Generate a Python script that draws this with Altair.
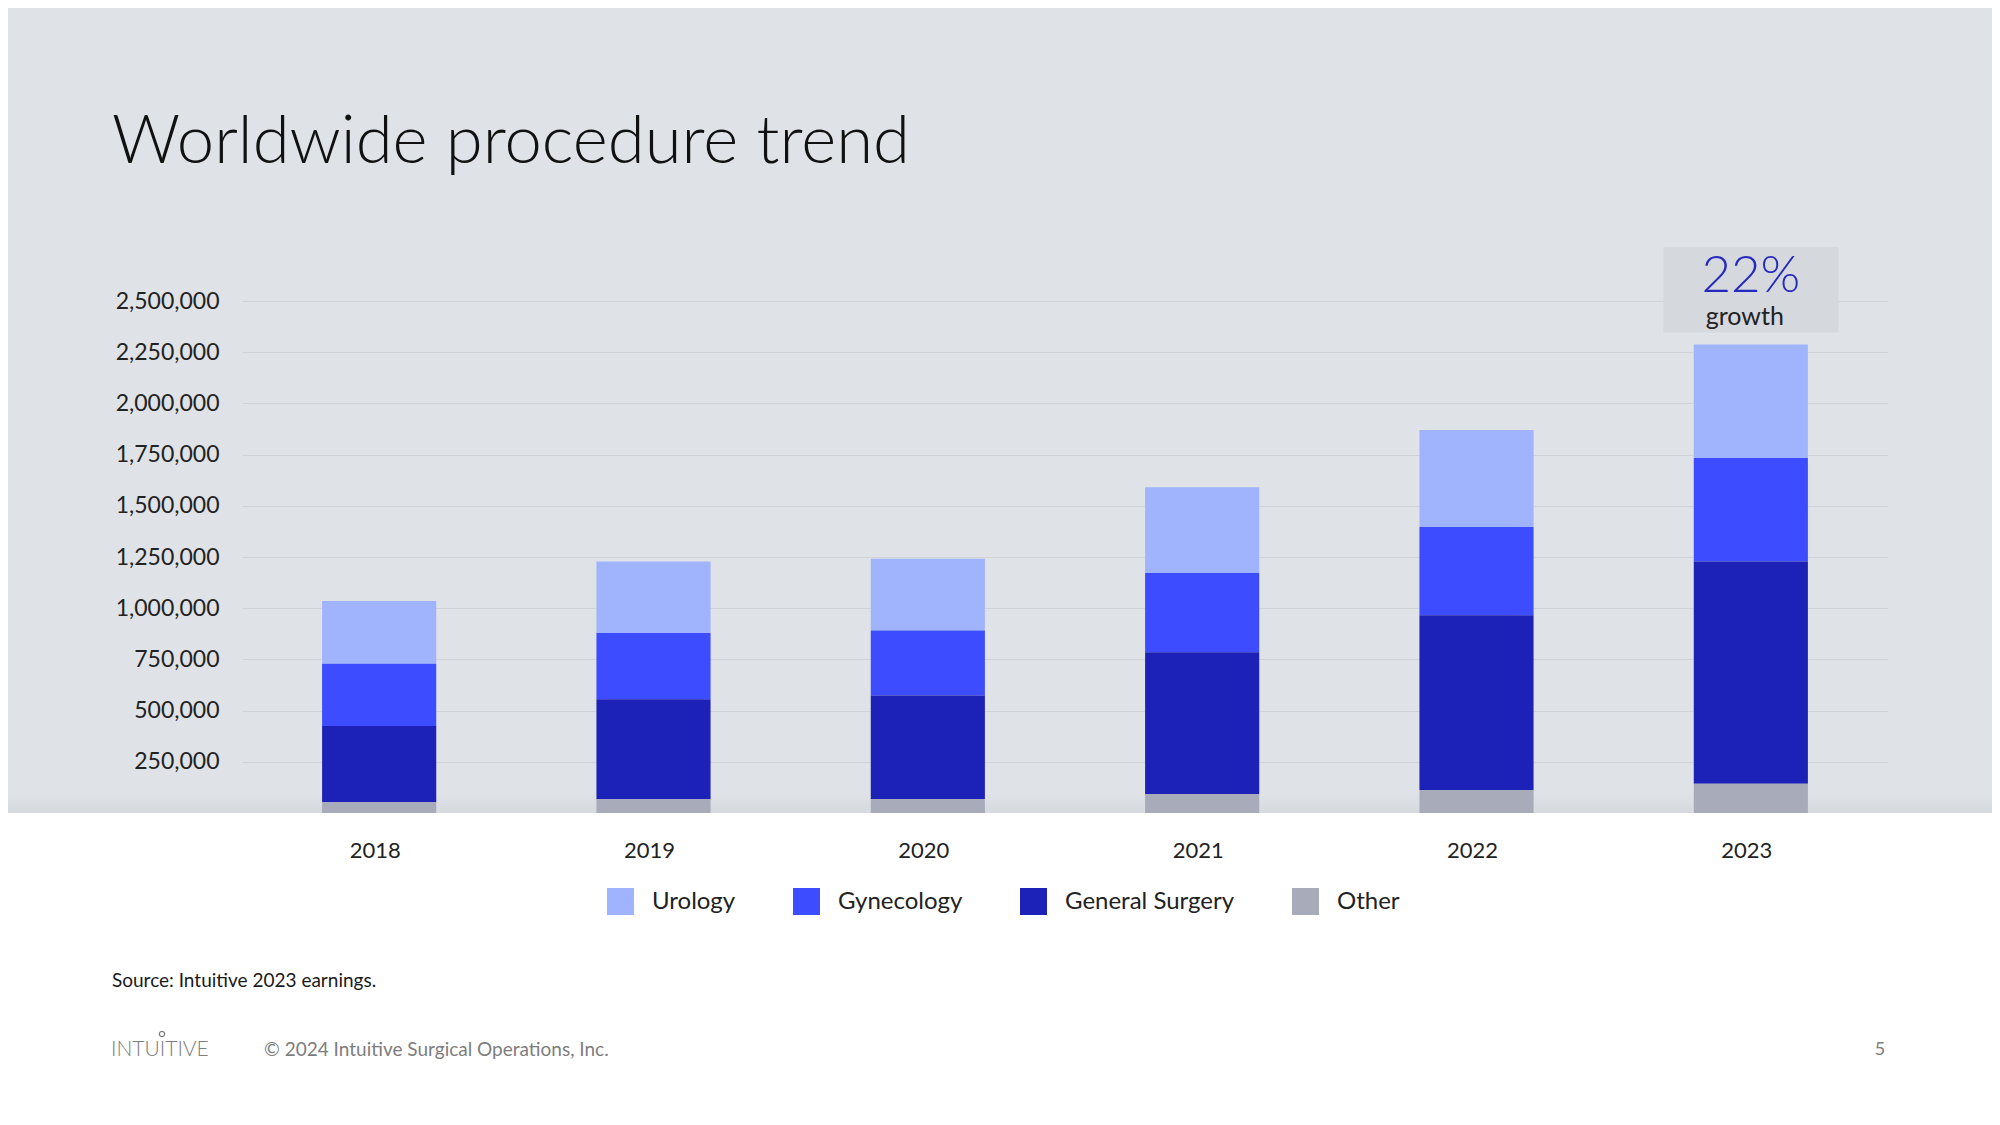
import altair as alt
import pandas as pd

# ---------------- data ----------------
years = ["2018", "2019", "2020", "2021", "2022", "2023"]
other = [52000, 67000, 68000, 93000, 112000, 143000]
general_surgery = [373000, 488000, 506000, 692000, 854000, 1085000]
gynecology = [304000, 324000, 317000, 387000, 430000, 505000]
urology = [306000, 349000, 350000, 418000, 474000, 555000]

categories = ["Urology", "Gynecology", "General Surgery", "Other"]
colors = ["#a0b4fd", "#3d4cff", "#1c22b8", "#a8abb9"]
stack_rank = [3, 2, 1, 0]  # Other at the bottom, Urology on top

y_ticks = [250000, 500000, 750000, 1000000, 1250000, 1500000,
           1750000, 2000000, 2250000, 2500000]

title_text = "Worldwide procedure trend"
growth_year = "2023"
growth_value = "22%"
growth_word = "growth"
growth_box = [2346000, 2764000]
growth_value_y = 2546000
growth_word_y = 2385000

source_text = "Source: Intuitive 2023 earnings."
logo_text = "INTUITIVE"
copyright_text = "© 2024 Intuitive Surgical Operations, Inc."
page_number = "5"

# ---------------- tables ----------------
series = {"Urology": urology, "Gynecology": gynecology,
          "General Surgery": general_surgery, "Other": other}
rows = []
for cat, rank in zip(categories, stack_rank):
    for yr, v in zip(years, series[cat]):
        rows.append({"year": yr, "category": cat, "value": v, "ord": rank})
df = pd.DataFrame(rows)

W, H = 1646, 512
FONT = "Lato"
BG = "#dfe2e6"

xscale = alt.Scale(domain=years, paddingInner=0.584, paddingOuter=0.292)
yscale = alt.Scale(domain=[0, 2500000], nice=False, zero=True)

x_axis = alt.Axis(labelAngle=0, domain=False, ticks=False, tickSize=0,
                  labelFontSize=22, labelFont=FONT, labelColor="#222222",
                  labelPadding=37, labelBaseline="middle", labelOffset=-4,
                  zindex=2, grid=False)
y_axis = alt.Axis(values=y_ticks, format=",d", domain=False, ticks=False,
                  tickSize=0, labelFontSize=23, labelFont=FONT,
                  labelColor="#222222", labelPadding=23,
                  grid=True, gridColor="#cfd2d7", gridWidth=1)


def X(field):
    return alt.X(field, sort=years, scale=xscale, axis=x_axis, title=None)


def Y(field, **kw):
    return alt.Y(field, scale=yscale, axis=y_axis, title=None, **kw)


# white lower band of the slide
white_band = alt.Chart(pd.DataFrame({"a": [0]})).mark_rect(color="white").encode(
    x=alt.value(-300), x2=alt.value(2100), y=alt.value(H), y2=alt.value(H + 400)
)
# soft shading at the bottom edge of the grey band
shade = alt.Chart(pd.DataFrame({"a": [0]})).mark_rect(
    color=alt.Gradient(gradient="linear",
                       stops=[alt.GradientStop(color=BG, offset=0),
                              alt.GradientStop(color="#d6d9dd", offset=1)],
                       x1=0, x2=0, y1=0, y2=1)).encode(
    x=alt.value(-300), x2=alt.value(2100), y=alt.value(H - 20), y2=alt.value(H)
)

bars = alt.Chart(df).mark_bar().encode(
    x=X("year:N"),
    y=Y("value:Q", stack="zero"),
    color=alt.Color("category:N",
                    scale=alt.Scale(domain=categories, range=colors),
                    legend=alt.Legend(title=None, orient="none", direction="horizontal",
                                      legendX=365, legendY=587,
                                      symbolType="square", symbolSize=729,
                                      symbolStrokeWidth=0, symbolOpacity=1,
                                      labelFont=FONT, labelFontSize=24,
                                      labelColor="#222222", labelOffset=18,
                                      labelLimit=0, columnPadding=57, padding=0)),
    order=alt.Order("ord:Q"),
)

ann_box = alt.Chart(pd.DataFrame({"year": [growth_year], "lo": [growth_box[0]],
                                  "hi": [growth_box[1]]})).mark_bar(
    width=175, color="#d5d8dd").encode(
    x=X("year:N"), y=Y("lo:Q"), y2="hi:Q",
)

ann_value = alt.Chart(pd.DataFrame({"year": [growth_year], "v": [growth_value_y],
                                    "t": [growth_value]})).mark_text(
    font=FONT, fontSize=51, fontWeight=300, color="#2529bd",
    baseline="alphabetic", align="center").encode(
    x=X("year:N"), y=Y("v:Q"), text="t:N",
)

ann_word = alt.Chart(pd.DataFrame({"year": [growth_year], "v": [growth_word_y],
                                   "t": [growth_word]})).mark_text(
    font=FONT, fontSize=25, color="#222222", baseline="alphabetic",
    align="center", dx=-6).encode(
    x=X("year:N"), y=Y("v:Q"), text="t:N",
)


def label(text, x, y, size, color, weight=400, align="left", baseline="middle"):
    return alt.Chart(pd.DataFrame({"t": [text]})).mark_text(
        font=FONT, fontSize=size, fontWeight=weight, color=color,
        align=align, baseline=baseline).encode(
        text="t:N", x=alt.value(x), y=alt.value(y))


title = label(title_text, -130, -138, 67, "#111111", weight=300, baseline="alphabetic")
source = label(source_text, -130, 680, 19, "#1a1a1a")
logo = label(logo_text, -131, 749, 21, "#7d7d7d", weight=300)
logo_ring = alt.Chart(pd.DataFrame({"a": [0]})).mark_point(
    shape="circle", filled=False, size=28, strokeWidth=1.3, color="#7d7d7d",
    opacity=1).encode(x=alt.value(-80), y=alt.value(733))
copyright_ = label(copyright_text, 22, 749, 19, "#7d7d7d")
page = label(page_number, 1638, 749, 18, "#7d7d7d", align="center")

chart = alt.layer(
    white_band, shade, bars, ann_box, ann_value, ann_word,
    title, source, logo, logo_ring, copyright_, page
).properties(
    width=W, height=H,
    autosize=alt.AutoSizeParams(type="none"),
    padding={"left": 234, "top": 293, "right": 104, "bottom": 304},
    background=BG,
).configure_view(stroke=None)

chart.save("out.html", embed_options={"renderer": "svg", "actions": False})
